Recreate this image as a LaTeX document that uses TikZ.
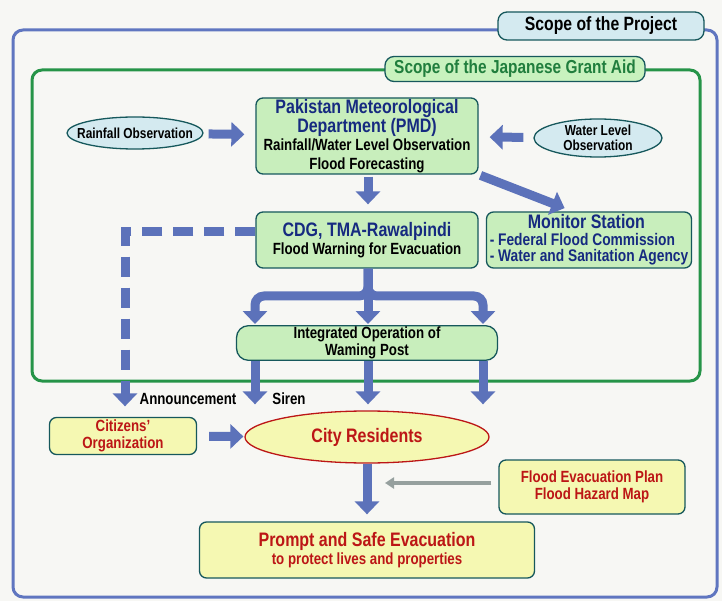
\documentclass[tikz,border=0pt]{standalone}
\usepackage{fontspec}
\setmainfont{Liberation Sans}[FakeStretch=0.82]
\usetikzlibrary{arrows.meta,shapes.geometric}
\definecolor{paper}{RGB}{247,247,244}
\definecolor{flowblue}{RGB}{92,114,186}
\definecolor{frameblue}{RGB}{96,118,192}
\definecolor{framegreen}{RGB}{38,148,72}
\definecolor{boxgreen}{RGB}{200,238,188}
\definecolor{boxline}{RGB}{22,88,92}
\definecolor{tagblue}{RGB}{212,234,240}
\definecolor{taggreen}{RGB}{200,242,190}
\definecolor{boxyellow}{RGB}{245,248,178}
\definecolor{navy}{RGB}{22,42,128}
\definecolor{darkred}{RGB}{188,22,22}
\definecolor{hintgray}{RGB}{150,160,158}

\newcommand{\headsize}{\fontsize{19.5}{18.5}\selectfont}
\newcommand{\bodysize}{\fontsize{16.2}{17.5}\selectfont}
\newcommand{\ovalsize}{\fontsize{14.5}{15}\selectfont}
\newcommand{\plain}{\color{black}\bodysize}

\begin{document}
\begin{tikzpicture}[x=1pt,y=-1pt,font=\bfseries,
    gbox/.style={draw=boxline,line width=1.3pt,fill=boxgreen,rounded corners=7pt,
        align=center,inner sep=1pt},
    ybox/.style={gbox,fill=boxyellow,text=darkred},
    oval/.style={ellipse,draw=boxline,line width=1.3pt,fill=tagblue,align=center,inner sep=0pt},
    tag/.style={draw=boxline,line width=1.3pt,rounded corners=9pt,inner sep=0pt,
        font=\bfseries\fontsize{19.2}{19}\selectfont},
    flow/.style={flowblue,line width=9pt,-{Triangle[width=24pt,length=13pt]}},
    hint/.style={hintgray,line width=4pt,-{Triangle[width=11pt,length=9pt]}}]
    \fill[paper] (0,0) rectangle (722,601);
    \useasboundingbox (0,0) rectangle (722,601);

    % frames
    \draw[frameblue,line width=3pt,rounded corners=10pt] (13,30) rectangle (717,597);
    \draw[framegreen,line width=3pt,rounded corners=10pt] (32,70) rectangle (700,381);
    \node[tag,fill=tagblue,minimum width=206pt,minimum height=28pt] (project) at (601,26) {Scope of the Project};
    \node[tag,fill=taggreen,minimum width=260pt,minimum height=25pt,text=framegreen!85!black,
        font=\bfseries\fontsize{18.8}{19}\selectfont] (grant) at (515,69) {Scope of the Japanese Grant Aid};

    % nodes
    \node[gbox,minimum width=222pt,minimum height=76pt,text=navy,font=\bfseries\headsize] (pmd) at (367,136) {Pakistan Meteorological\\ Department (PMD)\\ \plain Rainfall/Water Level Observation\\ \plain Flood Forecasting};
    \node[oval,inner xsep=-11pt,minimum width=136pt,minimum height=32pt,font=\bfseries\ovalsize] (rain) at (135,133) {Rainfall Observation};
    \node[oval,inner ysep=-2pt,minimum width=128pt,minimum height=38pt,font=\bfseries\ovalsize] (level) at (598,138) {Water Level\\ Observation};
    \node[gbox,minimum width=222pt,minimum height=56pt,text=navy,font=\bfseries\headsize] (cdg) at (367,240) {CDG, TMA-Rawalpindi\\ \plain Flood Warning for Evacuation};
    \node[gbox,minimum width=205pt,minimum height=56pt,text=navy,align=left,font=\bfseries\fontsize{16.8}{16.5}\selectfont] (monitor) at (589,240) {\hspace*{38pt}\headsize Monitor Station\\ - Federal Flood Commission\\ - Water and Sanitation Agency};
    \node[gbox,rounded corners=12pt,minimum width=261pt,minimum height=34pt,font=\bfseries\bodysize] (integ) at (367,343) {Integrated Operation of\\ Waming Post};
    \node[ybox,minimum width=147pt,minimum height=37pt,font=\bfseries\bodysize] (citizens) at (123,436) {Citizens'\\ Organization};
    \node[oval,draw=darkred,fill=boxyellow,text=darkred,minimum width=244pt,minimum height=52pt,font=\bfseries\headsize] (resid) at (367,437) {City Residents};
    \node[ybox,minimum width=186pt,minimum height=54pt,font=\bfseries\bodysize] (plan) at (592,487) {Flood Evacuation Plan\\ Flood Hazard Map};
    \node[ybox,minimum width=335pt,minimum height=56pt,font=\bfseries\headsize] (prompt) at (367,550) {Prompt and Safe Evacuation\\ \bodysize to protect lives and properties};
    \node[font=\bfseries\bodysize] (announce) at (188,399) {Announcement};
    \node[font=\bfseries\bodysize] (siren) at (289,399) {Siren};
    \coordinate (fork) at (368,296);
    \coordinate (pathx) at (385,483);

    % connectors
    \draw[flow,shorten <=5pt,shorten >=11pt] (rain) -- (pmd);
    \draw[flow,shorten <=10pt,shorten >=11pt] (level) -- (pmd);
    \draw[flow,shorten <=2pt,shorten >=7pt] (pmd.south -| fork) -- (cdg.north -| fork);
    \draw[flow,shorten <=2pt,shorten >=9pt] (pmd.south east) -- ([xshift=-16pt]monitor.north);
    \draw[flow,dash pattern=on 20pt off 11pt,shorten >=4pt] ([yshift=8pt]cdg.west) -| (125,0 |- resid.north);
    \foreach \x in {255,368,483} {
        \draw[flow,rounded corners=9pt,shorten >=1pt] (cdg.south -| fork) -- (fork) -| (\x,0 |- integ.north);
        \draw[flow,shorten >=6pt] (\x,0 |- integ.south) -- (\x,0 |- resid.north);
    }
    \draw[flow,shorten <=12pt,shorten >=1pt] (citizens) -- (resid);
    \draw[flow,shorten >=7pt] (resid.south) -- (prompt.north);
    \draw[hint,shorten <=7pt] (plan.west |- pathx) -- (pathx);
\end{tikzpicture}
\end{document}
